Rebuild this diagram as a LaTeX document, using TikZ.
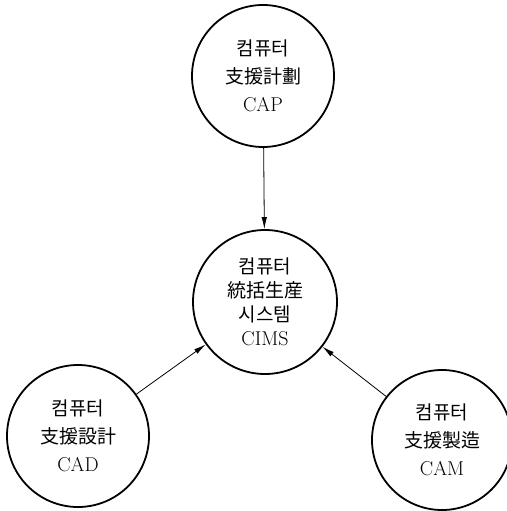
\documentclass[tikz,border=0pt]{standalone}
\usepackage{fontspec}
\newfontfamily\kr{Noto Sans CJK KR}
\usetikzlibrary{arrows.meta}
\tikzset{
  bubble/.style={draw, circle, line width=1.8pt, inner sep=0pt, align=center,
    font=\fontsize{20pt}{28pt}\selectfont},
  krtext/.style={},
  link/.style={line width=0.8pt, -{Latex[length=12pt,width=5.5pt]}}
}
\newcommand{\krl}[1]{{\kr\fontsize{19pt}{28pt}\selectfont #1}}
\begin{document}
\begin{tikzpicture}[x=1pt,y=-1pt]
\useasboundingbox (0,0) rectangle (506,511);
\node[bubble, minimum size=142pt] (cap) at (263,76)
  {\krl{컴퓨터}\\\krl{支援計劃}\\CAP};
\node[bubble, minimum size=144pt, font=\fontsize{20pt}{24pt}\selectfont] (cims) at (265,302)
  {\krl{컴퓨터}\\\krl{統括生産}\\\krl{시스템}\\CIMS};
\node[bubble, minimum size=142pt] (cad) at (78,436)
  {\krl{컴퓨터}\\\krl{支援設計}\\CAD};
\node[bubble, minimum size=140pt] (cam) at (442,440)
  {\krl{컴퓨터}\\\krl{支援製造}\\CAM};
\draw[link] (cap) -- (cims);
\draw[link] (cad) -- (cims);
\draw[link] (cam) -- (cims);
\end{tikzpicture}
\end{document}
